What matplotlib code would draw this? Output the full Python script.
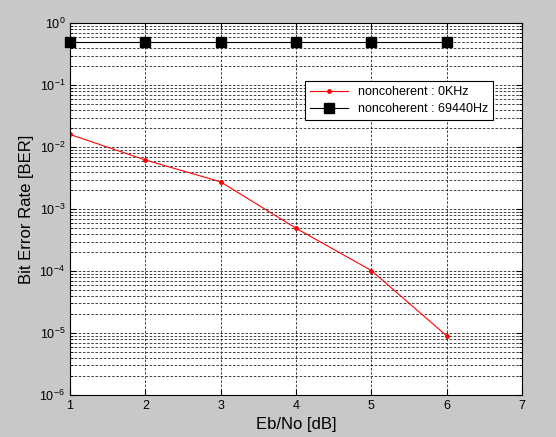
import numpy as np
import matplotlib
matplotlib.use('Agg')
import matplotlib.pyplot as plt

plt.rcParams['font.family'] = ['Liberation Sans', 'DejaVu Sans']

### data
ebno = [1, 2, 3, 4, 5, 6]
ber_0khz = [0.016, 0.0062, 0.00275, 0.00049, 1.02e-4, 9.0e-6]
ber_69440hz = [0.5, 0.5, 0.5, 0.5, 0.5, 0.5]

fig = plt.figure(figsize=(5.56, 4.37), dpi=100, facecolor='#c8c8c8')
ax = fig.add_axes([0.126, 0.096, 0.813, 0.851])

ax.semilogy(ebno, ber_0khz, color='red', marker='.', markersize=5,
            linewidth=0.8, label='noncoherent : 0KHz')
ax.semilogy(ebno, ber_69440hz, color='black', marker='s', markersize=7,
            linewidth=0.8, label='noncoherent : 69440Hz', clip_on=False)

ax.set_xlim(1, 7)
ax.set_ylim(1e-6, 1)
ax.set_xticks(range(1, 8))

ax.grid(True, which='major', linestyle=(0, (3, 2)), color='#222222', linewidth=0.6)
ax.grid(True, which='minor', axis='y', linestyle=(0, (3, 2)), color='#222222', linewidth=0.6)
ax.tick_params(which='both', direction='in', labelsize=9, top=True, right=True)
ax.tick_params(which='major', length=4)
ax.tick_params(which='minor', length=2)

ax.set_xlabel('Eb/No [dB]', fontsize=12)
ax.set_ylabel('Bit Error Rate [BER]', fontsize=12)

leg = ax.legend(loc='upper right', bbox_to_anchor=(0.95, 0.86), fontsize=9,
                fancybox=False, framealpha=1, edgecolor='black',
                handlelength=3, borderpad=0.4, labelspacing=0.4)
leg.get_frame().set_linewidth(0.8)

plt.savefig('out.png', dpi=100, facecolor=fig.get_facecolor())
